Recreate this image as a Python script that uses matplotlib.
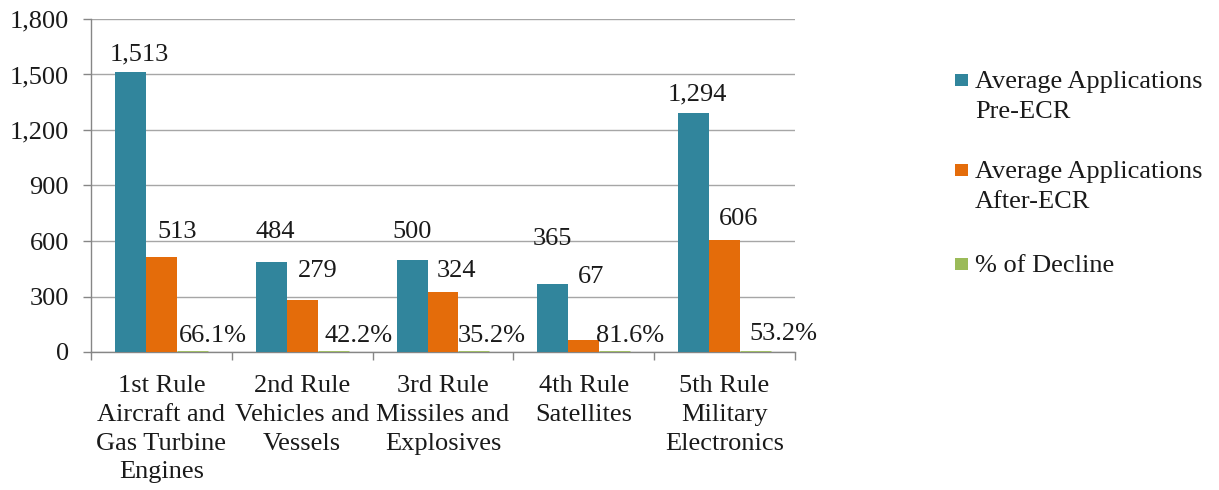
import matplotlib
matplotlib.use("Agg")
import matplotlib.pyplot as plt
import numpy as np
from matplotlib.patches import Rectangle
from matplotlib.ticker import FuncFormatter, MultipleLocator

plt.rcParams['font.family'] = ['Liberation Serif', 'DejaVu Serif']

categories = ["1st Rule\nAircraft and\nGas Turbine\nEngines",
              "2nd Rule\nVehicles and\nVessels",
              "3rd Rule\nMissiles and\nExplosives",
              "4th Rule\nSatellites",
              "5th Rule\nMilitary\nElectronics"]
pre_ecr = [1513, 484, 500, 365, 1294]
after_ecr = [513, 279, 324, 67, 606]
decline_pct = [66.1, 42.2, 35.2, 81.6, 53.2]
series_names = ["Average Applications\nPre-ECR", "Average Applications\nAfter-ECR", "% of Decline"]
colors = ["#31859C", "#E46C0A", "#9BBB59"]

# layout tweaks for data labels (pixels: right shift, lift above bar top)
label_dx_px = [[9, 4, 0, 0, 3.5], [15.5, 15.5, 13, 7, 14], [20.5, 25, 17.5, 15.5, 28]]
label_dy_px = [[12, 24, 22, 39, 12.5], [19, 23, 15, 57, 15], [10, 10, 10, 10, 12]]

W, H = 1219, 490
DPI = 100
fig = plt.figure(figsize=(W / DPI, H / DPI), dpi=DPI)
ax = fig.add_axes([91 / W, 1 - 352 / H, (795 - 91) / W, (352 - 19) / H])

x = np.arange(len(categories))
bw = 0.22
fs = 19
px2pt = 72 / DPI
series = [pre_ecr, after_ecr, [p / 100 for p in decline_pct]]
label_texts = [[f"{v:,}" for v in pre_ecr], [f"{v:,}" for v in after_ecr],
               [f"{p:.1f}%" for p in decline_pct]]
for i, (vals, col) in enumerate(zip(series, colors)):
    pos = x + (i - 1) * bw
    ax.bar(pos, vals, width=bw, color=col, edgecolor=col if i == 2 else 'none',
           linewidth=2 if i == 2 else 0, zorder=3)
    for j, (xp, v, t) in enumerate(zip(pos, vals, label_texts[i])):
        ax.annotate(t, (xp, v),
                    xytext=(label_dx_px[i][j] * px2pt, label_dy_px[i][j] * px2pt),
                    textcoords='offset points',
                    ha='center', va='baseline', fontsize=fs, color='#1a1a1a', zorder=4)

ax.set_xlim(-0.5, len(categories) - 0.5)
ax.set_ylim(0, 1800)
ax.yaxis.set_major_locator(MultipleLocator(300))
ax.yaxis.set_major_formatter(FuncFormatter(lambda v, p: f"{int(v):,}"))
ax.grid(axis='y', color='#a6a6a6', linewidth=1, zorder=0)
ax.set_axisbelow(True)

ax.set_xticks(np.arange(len(categories) + 1) - 0.5)
ax.set_xticklabels([])
ax.set_xticks(x, minor=True)
ax.set_xticklabels(categories, minor=True, fontsize=fs, linespacing=1.4, color='#1a1a1a')
ax.tick_params(axis='x', which='minor', length=0, pad=16.5)
ax.tick_params(axis='x', which='major', length=6, color='#868686', width=1)
ax.tick_params(axis='y', length=6, color='#868686', width=1, labelsize=fs, pad=10,
               labelcolor='#1a1a1a')

for s in ['top', 'right']:
    ax.spines[s].set_visible(False)
for s in ['left', 'bottom']:
    ax.spines[s].set_color('#868686')
    ax.spines[s].set_linewidth(1)

# Legend (manual, markers aligned to the first text line)
leg_base = [88, 178, 272]
line_gap = 30
for name, col, yb in zip(series_names, colors, leg_base):
    fig.patches.append(Rectangle((955 / W, 1 - (yb - 2) / H), 13 / W, 12 / H,
                                 transform=fig.transFigure, facecolor=col, edgecolor='none'))
    for k, line in enumerate(name.split("\n")):
        fig.text(975 / W, 1 - (yb + k * line_gap) / H, line, fontsize=fs,
                 va='baseline', ha='left', color='#1a1a1a')

fig.savefig("out.png", dpi=DPI)
